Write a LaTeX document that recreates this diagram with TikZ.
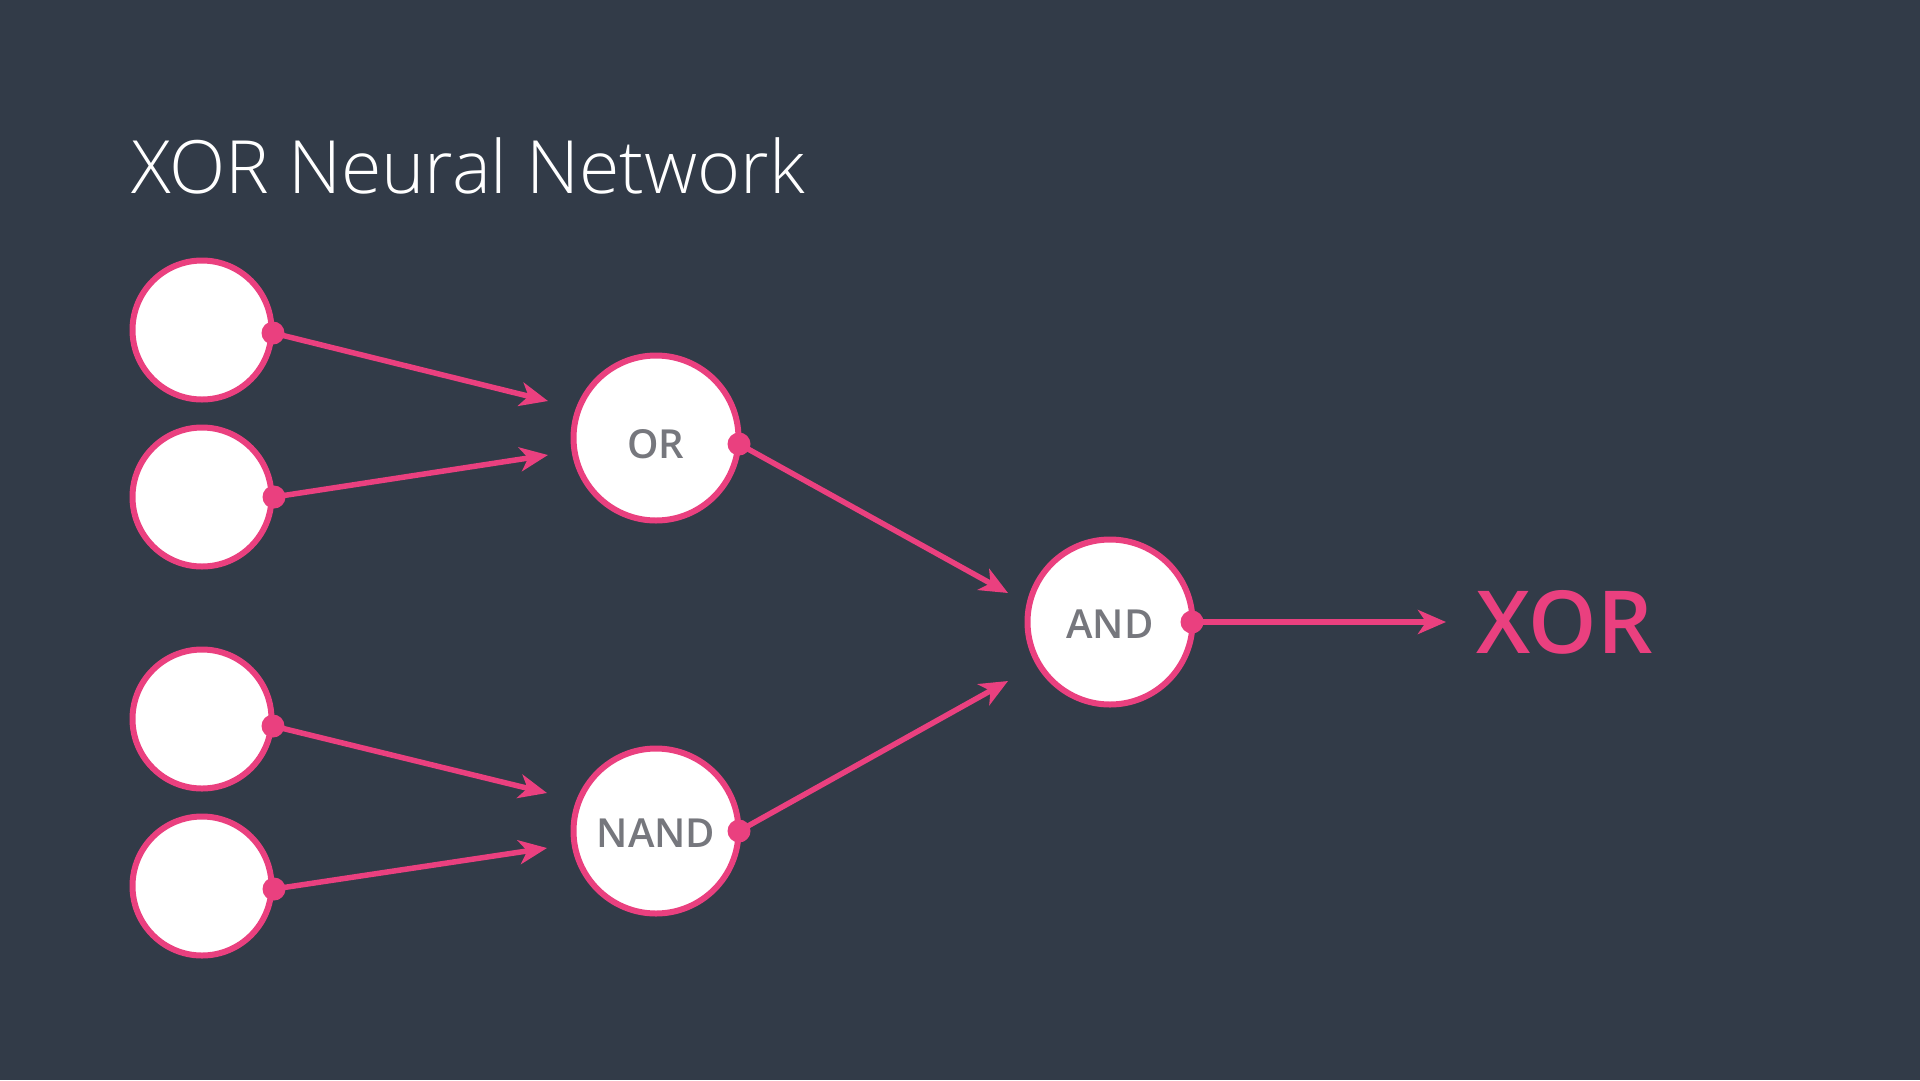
\documentclass[tikz,border=0pt]{standalone}
\usepackage{fontspec}
\setmainfont{Open Sans}
\newfontfamily\lightfont{Open Sans Light}
\newfontfamily\semifont{Open Sans Semibold}
\usetikzlibrary{arrows.meta}
\definecolor{bgc}{RGB}{50,59,72}
\definecolor{pinkc}{RGB}{234,64,127}
\definecolor{grayc}{RGB}{118,119,125}
\tikzset{
  inputnode/.style={circle, draw=pinkc, fill=white, line width=6pt, minimum size=139pt, inner sep=0pt},
  gatenode/.style={circle, draw=pinkc, fill=white, line width=6pt, minimum size=165pt, inner sep=0pt, text=grayc, font=\semifont\fontsize{40}{44}\selectfont, text height=32pt, text depth=0pt},
  dotnode/.style={circle, fill=pinkc, minimum size=23pt, inner sep=0pt},
  conn/.style={draw=pinkc, line width=5.5pt, -{Stealth[length=28pt, width=24pt, inset=8pt]}},
}
\begin{document}
\begin{tikzpicture}[x=1pt, y=-1pt]
\fill[bgc] (0,0) rectangle (1920,1080);
\useasboundingbox (0,0) rectangle (1920,1080);
\node[anchor=base west, inner sep=0pt, text=white, font=\lightfont\fontsize{73.5}{80}\selectfont] (title) at (131,193) {XOR Neural Network};
% input nodes
\node[inputnode] (i1) at (202,330) {};
\node[inputnode] (i2) at (202,497) {};
\node[inputnode] (i3) at (202,719) {};
\node[inputnode] (i4) at (202,886) {};
% gates
\node[gatenode, text height=41pt] (or) at (656,438) {OR};
\node[gatenode] (nand) at (656,831) {NAND};
\node[gatenode] (and) at (1110,622) {AND};
% output text
\node[anchor=base west, inner sep=0pt, text=pinkc, font=\semifont\fontsize{87}{90}\selectfont] (xor) at (1476,653) {XOR};
% dots
\node[dotnode] (d1) at (273,333) {};
\node[dotnode] (d2) at (274,497) {};
\node[dotnode] (d3) at (273,726) {};
\node[dotnode] (d4) at (274,889) {};
\node[dotnode] (dor) at (739,444) {};
\node[dotnode] (dnand) at (739,831) {};
\node[dotnode] (dand) at (1192,622) {};
% arrow tips
\coordinate (t1) at (548,401);
\coordinate (t2) at (548,455);
\coordinate (t3) at (547,793);
\coordinate (t4) at (547,848);
\coordinate (tor) at (1008,593);
\coordinate (tnand) at (1008,681);
\coordinate (tand) at (1446,622);
\draw[conn] (d1.center) -- (t1);
\draw[conn] (d2.center) -- (t2);
\draw[conn] (d3.center) -- (t3);
\draw[conn] (d4.center) -- (t4);
\draw[conn] (dor.center) -- (tor);
\draw[conn] (dnand.center) -- (tnand);
\draw[conn] (dand.center) -- (tand);
\end{tikzpicture}
\end{document}
